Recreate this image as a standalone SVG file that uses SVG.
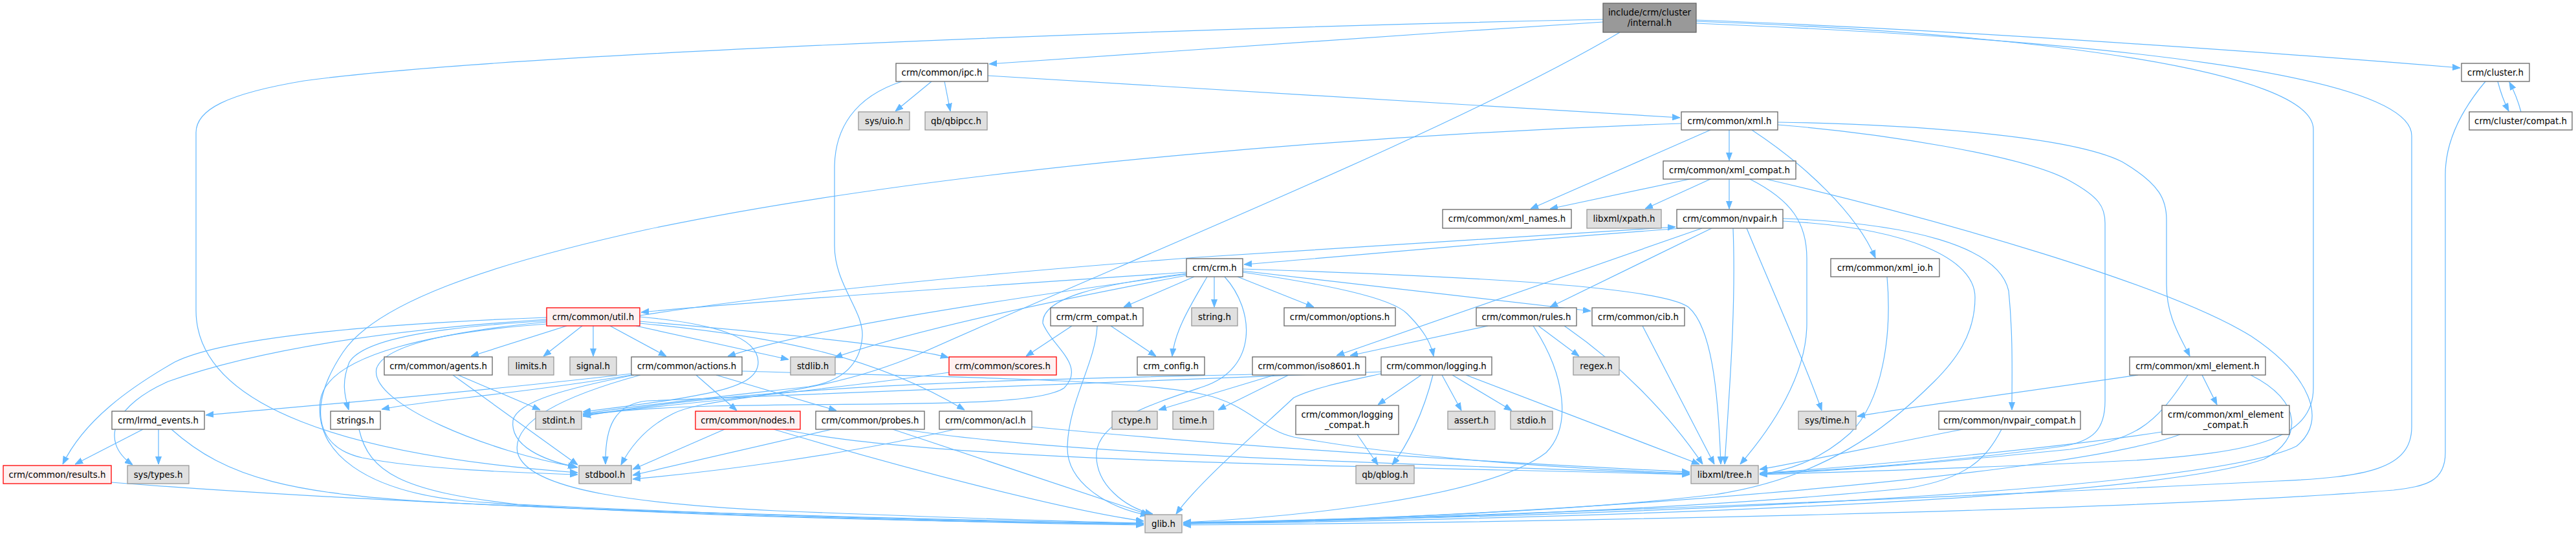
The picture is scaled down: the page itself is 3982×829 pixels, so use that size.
<svg xmlns="http://www.w3.org/2000/svg" width="3982" height="829" viewBox="0 0 3982 829">
<style>
.node rect{stroke-width:1.3}
.w rect{fill:#ffffff;stroke:#666666}
.g rect{fill:#e0e0e0;stroke:#999999}
.r rect{fill:#fff0f0;stroke:#ff0000}
.root rect{fill:#999999;stroke:#666666}
text{font-family:'DejaVu Sans','Liberation Sans',sans-serif;font-size:13.33px;text-anchor:middle;fill:#000000}
#edges path{fill:none;stroke:#63b8ff;stroke-width:1.2;marker-end:url(#a)}
</style>
<defs>
<marker id="a" viewBox="0 0 12 10" refX="12" refY="5" markerWidth="12" markerHeight="10" markerUnits="userSpaceOnUse" orient="auto">
<path d="M0,0.5 L12,5 L0,9.5 z" fill="#63b8ff" stroke="#63b8ff" stroke-width="1"/>
</marker>
</defs>
<rect width="3982" height="829" fill="#ffffff"/>
<g id="edges">
<path d="M2478,34 C2150,55 1800,80 1529,99"/>
<path d="M2478,30 C1900,42 800,80 470,125 C350,145 303,170 303,205 L303,480 C303,630 540,705 893,731"/>
<path d="M2504,50 C2250,200 1750,400 1420,548 C1250,620 1100,610 1040,640 C1000,660 975,690 960,719"/>
<path d="M2622,31 C3000,45 3500,80 3803,105"/>
<path d="M2622,33 C3150,52 3576,110 3576,200 L3576,600 C3576,680 3480,700 3300,712 C3100,722 2850,730 2720,734"/>
<path d="M2622,36 C3250,62 3728,115 3728,210 L3728,660 C3728,725 3660,738 3520,744 C3100,765 2300,800 1829,809"/>
<path d="M3842,126 C3805,170 3780,220 3780,270 L3780,700 C3780,745 3750,752 3700,758 C3300,790 2400,808 1829,812"/>
<path d="M3861,126 C3866,145 3872,160 3878,172"/>
<path d="M3897,173 C3893,158 3887,142 3879,127"/>
<path d="M1440,126 L1384,172"/>
<path d="M1460,126 L1469,172"/>
<path d="M1527,117 L2597,182"/>
<path d="M1394,126 C1320,150 1290,200 1290,260 L1290,380 C1290,440 1335,480 1333,520 C1330,565 1300,590 1250,598 C1100,615 980,628 901,640"/>
<path d="M2644,201 L2366,323"/>
<path d="M2673,201 L2673,248"/>
<path d="M2708,201 C2790,255 2870,330 2899,399"/>
<path d="M2748,189 C2950,192 3200,210 3280,250 C3340,285 3349,310 3349,340 L3349,440 C3349,490 3370,520 3385,551"/>
<path d="M2748,193 C2900,205 3130,240 3200,280 C3245,305 3254,320 3254,345 L3254,620 C3254,665 3235,682 3190,690 C3050,710 2880,725 2720,732"/>
<path d="M2599,191 C2200,205 1500,250 1000,355 C750,410 580,470 530,545 C480,620 480,690 560,708 C650,726 800,731 893,734"/>
<path d="M2612,277 L2396,323"/>
<path d="M2644,277 L2543,323"/>
<path d="M2673,277 L2673,323"/>
<path d="M2705,277 C2770,310 2793,345 2793,400 L2793,500 C2793,580 2740,660 2690,718"/>
<path d="M2730,277 C3000,340 3350,440 3480,520 C3570,580 3600,650 3550,690 C3400,765 2400,802 1829,808"/>
<path d="M2600,353 C2300,375 2100,395 1923,409"/>
<path d="M2646,353 L2396,475"/>
<path d="M2631,353 L2066,550"/>
<path d="M2679,353 C2684,480 2672,620 2666,718"/>
<path d="M2700,353 C2740,450 2790,560 2816,635"/>
<path d="M2756,338 C2950,345 3090,380 3105,450 C3112,520 3110,580 3110,634"/>
<path d="M2756,342 C2950,352 3053,400 3053,460 C3053,520 3020,560 2990,590 C2920,660 2820,740 2650,765 C2400,795 2000,806 1829,808"/>
<path d="M989,488 C1200,455 1500,425 1850,398 C2150,378 2400,362 2590,351"/>
<path d="M1834,421 C1600,437 1200,463 991,483"/>
<path d="M1846,428 L1737,475"/>
<path d="M1877,428 L1877,475"/>
<path d="M1866,428 C1842,470 1816,510 1812,551"/>
<path d="M1893,428 C1940,480 1945,570 1860,598 C1780,625 1700,650 1695,700 C1692,750 1740,785 1782,795"/>
<path d="M1913,428 L2031,475"/>
<path d="M1921,421 C2050,440 2150,460 2175,485 C2200,510 2212,530 2216,551"/>
<path d="M1921,419 L2459,481"/>
<path d="M1921,416 C2300,428 2570,445 2610,475 C2645,505 2656,600 2660,718"/>
<path d="M1834,424 C1500,470 1250,510 1125,551"/>
<path d="M1834,426 C1600,470 1400,515 1290,553"/>
<path d="M1834,423 C1700,440 1610,460 1612,500 C1625,535 1680,565 1645,600 C1600,630 1400,622 1100,628 C1000,631 950,636 901,642"/>
<path d="M1657,504 L1586,551"/>
<path d="M1717,504 L1787,551"/>
<path d="M1696,504 C1694,560 1652,620 1650,690 C1648,745 1710,785 1775,797"/>
<path d="M876,504 L728,551"/>
<path d="M900,504 L840,551"/>
<path d="M917,504 L917,551"/>
<path d="M943,504 L1030,551"/>
<path d="M983,504 L1219,556"/>
<path d="M989,497 C1200,515 1400,535 1466,553"/>
<path d="M989,500 C1200,520 1350,550 1491,634"/>
<path d="M845,491 C600,500 350,520 270,560 C200,600 130,650 97,718"/>
<path d="M845,494 C600,510 400,540 260,590 C180,625 150,680 205,719"/>
<path d="M845,496 C700,505 565,520 540,560 C528,590 532,610 539,634"/>
<path d="M845,498 C720,510 595,530 582,570 C570,625 760,700 890,722"/>
<path d="M845,501 C690,512 505,545 495,620 C485,700 565,760 720,775 C1050,800 1500,808 1768,810"/>
<path d="M989,490 C1100,500 1172,520 1172,560 C1172,600 1100,612 901,637"/>
<path d="M1076,580 L1139,635"/>
<path d="M1107,580 L1293,635"/>
<path d="M976,578 C700,610 450,630 318,642"/>
<path d="M976,580 C800,610 650,620 590,633"/>
<path d="M980,580 C880,600 800,620 793,650 C788,690 840,712 893,723"/>
<path d="M990,580 C880,610 790,650 800,700 C815,760 1000,780 1200,790 C1500,802 1700,808 1768,809"/>
<path d="M1147,574 C1400,582 1750,585 1860,610 C1930,625 1950,665 2000,676 C2200,712 2450,726 2612,732"/>
<path d="M1120,664 L978,726"/>
<path d="M1196,664 C1400,725 1650,790 1768,806"/>
<path d="M1210,664 C1450,715 2100,720 2612,734"/>
<path d="M1286,664 L978,735"/>
<path d="M1380,664 L1776,796"/>
<path d="M1397,664 C1650,705 2200,718 2612,733"/>
<path d="M1476,664 C1300,705 1100,730 978,741"/>
<path d="M1595,660 C1900,690 2300,715 2612,730"/>
<path d="M1467,576 C1300,600 1100,620 901,641"/>
<path d="M1970,580 L1791,634"/>
<path d="M1992,580 L1883,634"/>
<path d="M1936,579 C1700,585 1200,590 901,644"/>
<path d="M2197,580 L2130,626"/>
<path d="M2215,580 C2200,640 2175,690 2152,719"/>
<path d="M2229,580 L2259,635"/>
<path d="M2245,580 L2337,635"/>
<path d="M2266,580 L2627,718"/>
<path d="M2135,578 C2080,590 2030,600 2000,615 C1930,680 1850,750 1818,795"/>
<path d="M2135,575 C1800,590 1300,605 1000,620 C950,625 935,660 936,718"/>
<path d="M2098,672 L2130,719"/>
<path d="M2300,504 L2087,550"/>
<path d="M2378,504 L2441,551"/>
<path d="M2418,504 C2500,560 2580,640 2632,718"/>
<path d="M2370,504 C2420,580 2430,660 2390,700 C2300,770 2000,800 1829,808"/>
<path d="M2539,504 L2650,718"/>
<path d="M2917,428 C2925,520 2910,620 2860,670 C2810,715 2760,728 2720,734"/>
<path d="M3034,664 C2900,690 2800,712 2720,726"/>
<path d="M3094,664 C3070,710 3040,740 2950,755 C2600,790 2100,806 1829,810"/>
<path d="M3305,580 C3100,610 2950,630 2871,644"/>
<path d="M3404,580 L3427,626"/>
<path d="M3382,580 C3330,660 3300,680 3200,695 C3000,715 2850,728 2720,733"/>
<path d="M3479,580 C3560,620 3560,680 3500,710 C3300,780 2300,805 1829,810"/>
<path d="M3342,668 C3200,690 2900,720 2720,732"/>
<path d="M3370,672 C3200,735 2400,800 1829,810"/>
<path d="M221,664 L116,718"/>
<path d="M245,664 L245,718"/>
<path d="M265,664 C350,740 450,765 700,778 C1100,797 1600,806 1768,810"/>
<path d="M172,746 C600,780 1300,805 1768,812"/>
<path d="M555,664 C570,730 620,760 800,780 C1200,800 1600,808 1768,811"/>
<path d="M708,580 L835,634"/>
<path d="M700,580 L893,719"/>
</g>
<g id="n0" class="node root"><rect x="2478" y="5" width="144" height="45"/><text x="2550" y="24">include/crm/cluster</text><text x="2550" y="40">/internal.h</text></g>
<g id="n1" class="node w"><rect x="1385" y="98" width="142" height="28"/><text x="1456" y="117">crm/common/ipc.h</text></g>
<g id="n2" class="node w"><rect x="3805" y="98" width="105" height="28"/><text x="3857.5" y="117">crm/cluster.h</text></g>
<g id="n3" class="node g"><rect x="1327" y="173" width="79" height="28"/><text x="1366.5" y="192">sys/uio.h</text></g>
<g id="n4" class="node g"><rect x="1430" y="173" width="96" height="28"/><text x="1478" y="192">qb/qbipcc.h</text></g>
<g id="n5" class="node w"><rect x="2599" y="173" width="149" height="28"/><text x="2673.5" y="192">crm/common/xml.h</text></g>
<g id="n6" class="node w"><rect x="3817" y="173" width="159" height="28"/><text x="3896.5" y="192">crm/cluster/compat.h</text></g>
<g id="n7" class="node w"><rect x="2571" y="249" width="205" height="28"/><text x="2673.5" y="268">crm/common/xml_compat.h</text></g>
<g id="n8" class="node w"><rect x="2230" y="324" width="199" height="29"/><text x="2329.5" y="343">crm/common/xml_names.h</text></g>
<g id="n9" class="node g"><rect x="2453" y="324" width="115" height="29"/><text x="2510.5" y="343">libxml/xpath.h</text></g>
<g id="n10" class="node w"><rect x="2592" y="324" width="164" height="29"/><text x="2674" y="343">crm/common/nvpair.h</text></g>
<g id="n11" class="node w"><rect x="1834" y="400" width="87" height="28"/><text x="1877.5" y="419">crm/crm.h</text></g>
<g id="n12" class="node w"><rect x="2830" y="400" width="168" height="28"/><text x="2914" y="419">crm/common/xml_io.h</text></g>
<g id="n13" class="node r"><rect x="845" y="476" width="144" height="28"/><text x="917" y="495">crm/common/util.h</text></g>
<g id="n14" class="node w"><rect x="1624" y="476" width="143" height="28"/><text x="1695.5" y="495">crm/crm_compat.h</text></g>
<g id="n15" class="node g"><rect x="1842" y="476" width="71" height="28"/><text x="1877.5" y="495">string.h</text></g>
<g id="n16" class="node w"><rect x="1985" y="476" width="172" height="28"/><text x="2071" y="495">crm/common/options.h</text></g>
<g id="n17" class="node w"><rect x="2282" y="476" width="155" height="28"/><text x="2359.5" y="495">crm/common/rules.h</text></g>
<g id="n18" class="node w"><rect x="2461" y="476" width="143" height="28"/><text x="2532.5" y="495">crm/common/cib.h</text></g>
<g id="n19" class="node w"><rect x="594" y="552" width="167" height="28"/><text x="677.5" y="571">crm/common/agents.h</text></g>
<g id="n20" class="node g"><rect x="786" y="552" width="70" height="28"/><text x="821" y="571">limits.h</text></g>
<g id="n21" class="node g"><rect x="881" y="552" width="72" height="28"/><text x="917" y="571">signal.h</text></g>
<g id="n22" class="node w"><rect x="976" y="552" width="171" height="28"/><text x="1061.5" y="571">crm/common/actions.h</text></g>
<g id="n23" class="node g"><rect x="1222" y="552" width="69" height="28"/><text x="1256.5" y="571">stdlib.h</text></g>
<g id="n24" class="node r"><rect x="1467" y="552" width="166" height="28"/><text x="1550" y="571">crm/common/scores.h</text></g>
<g id="n25" class="node w"><rect x="1758" y="552" width="104" height="28"/><text x="1810" y="571">crm_config.h</text></g>
<g id="n26" class="node w"><rect x="1936" y="552" width="175" height="28"/><text x="2023.5" y="571">crm/common/iso8601.h</text></g>
<g id="n27" class="node w"><rect x="2135" y="552" width="171" height="28"/><text x="2220.5" y="571">crm/common/logging.h</text></g>
<g id="n28" class="node g"><rect x="2432" y="552" width="71" height="28"/><text x="2467.5" y="571">regex.h</text></g>
<g id="n29" class="node w"><rect x="3292" y="552" width="210" height="28"/><text x="3397" y="571">crm/common/xml_element.h</text></g>
<g id="n30" class="node w"><rect x="173" y="636" width="143" height="28"/><text x="244.5" y="655">crm/lrmd_events.h</text></g>
<g id="n31" class="node w"><rect x="511" y="636" width="77" height="28"/><text x="549.5" y="655">strings.h</text></g>
<g id="n32" class="node g"><rect x="828" y="636" width="71" height="28"/><text x="863.5" y="655">stdint.h</text></g>
<g id="n33" class="node r"><rect x="1075" y="636" width="162" height="28"/><text x="1156" y="655">crm/common/nodes.h</text></g>
<g id="n34" class="node w"><rect x="1261" y="636" width="168" height="28"/><text x="1345" y="655">crm/common/probes.h</text></g>
<g id="n35" class="node w"><rect x="1452" y="636" width="143" height="28"/><text x="1523.5" y="655">crm/common/acl.h</text></g>
<g id="n36" class="node g"><rect x="1719" y="636" width="70" height="28"/><text x="1754" y="655">ctype.h</text></g>
<g id="n37" class="node g"><rect x="1813" y="636" width="63" height="28"/><text x="1844.5" y="655">time.h</text></g>
<g id="n38" class="node w"><rect x="2003" y="627" width="159" height="45"/><text x="2082.5" y="646">crm/common/logging</text><text x="2082.5" y="662">_compat.h</text></g>
<g id="n39" class="node g"><rect x="2238" y="636" width="73" height="28"/><text x="2274.5" y="655">assert.h</text></g>
<g id="n40" class="node g"><rect x="2335" y="636" width="65" height="28"/><text x="2367.5" y="655">stdio.h</text></g>
<g id="n41" class="node g"><rect x="2780" y="636" width="89" height="28"/><text x="2824.5" y="655">sys/time.h</text></g>
<g id="n42" class="node w"><rect x="2997" y="636" width="219" height="28"/><text x="3106.5" y="655">crm/common/nvpair_compat.h</text></g>
<g id="n43" class="node w"><rect x="3342" y="627" width="197" height="45"/><text x="3440.5" y="646">crm/common/xml_element</text><text x="3440.5" y="662">_compat.h</text></g>
<g id="n44" class="node r"><rect x="5" y="720" width="167" height="28"/><text x="88.5" y="739">crm/common/results.h</text></g>
<g id="n45" class="node g"><rect x="197" y="720" width="95" height="28"/><text x="244.5" y="739">sys/types.h</text></g>
<g id="n46" class="node g"><rect x="895" y="720" width="81" height="28"/><text x="935.5" y="739">stdbool.h</text></g>
<g id="n47" class="node g"><rect x="2096" y="720" width="90" height="28"/><text x="2141" y="739">qb/qblog.h</text></g>
<g id="n48" class="node g"><rect x="2614" y="720" width="104" height="28"/><text x="2666" y="739">libxml/tree.h</text></g>
<g id="n49" class="node g"><rect x="1770" y="796" width="57" height="28"/><text x="1798.5" y="815">glib.h</text></g>
</svg>
